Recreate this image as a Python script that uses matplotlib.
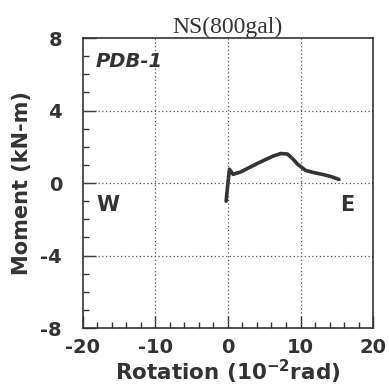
import matplotlib
matplotlib.use('Agg')
import matplotlib.pyplot as plt
from matplotlib.ticker import MultipleLocator

# moment-rotation path
rotation = [-0.25, 0.0, 0.2, 0.7, 1.8, 2.9, 4.0, 5.2, 6.3, 7.3, 8.2, 8.9, 9.6, 10.7, 11.8, 13.0, 14.2, 15.3]
moment = [-1.0, 0.0, 0.76, 0.48, 0.62, 0.85, 1.07, 1.3, 1.5, 1.63, 1.6, 1.35, 1.04, 0.7, 0.58, 0.48, 0.36, 0.2]

x_ticks = [-20, -10, 0, 10, 20]
y_ticks = [-8, -4, 0, 4, 8]

fig = plt.figure(figsize=(3.89, 3.92), dpi=100)
ax = fig.add_axes([0.213, 0.163, 0.746, 0.740])

ax.plot(rotation, moment, color='#333333', linewidth=2.6, solid_capstyle='round',
        solid_joinstyle='round')

ax.set_xlim(-20, 20)
ax.set_ylim(-8, 8)
ax.set_xticks(x_ticks)
ax.set_yticks(y_ticks)
ax.xaxis.set_minor_locator(MultipleLocator(2))
ax.yaxis.set_minor_locator(MultipleLocator(1))
ax.tick_params(which='both', direction='in', top=False, right=False, colors='#333333')
ax.tick_params(which='major', length=9, width=1)
ax.tick_params(which='minor', length=4, width=1)
ax.set_xticklabels([str(v) for v in x_ticks], fontsize=14, fontweight='bold', color='#333333')
ax.set_yticklabels([str(v) for v in y_ticks], fontsize=14, fontweight='bold', color='#333333')
ax.tick_params(axis='x', pad=7)
ax.tick_params(axis='y', pad=15)

for v in [-10, 0, 10]:
    ax.axvline(v, color='#555555', linestyle=(0, (1, 2)), linewidth=0.9)
for v in [-4, 0, 4]:
    ax.axhline(v, color='#555555', linestyle=(0, (1, 2)), linewidth=0.9)

for s in ax.spines.values():
    s.set_color('#333333')
    s.set_linewidth(1.2)

ax.text(-18.2, 6.7, 'PDB-1', fontsize=14, fontweight='bold', style='italic',
        color='#333333', va='center')
ax.text(-18.2, -1.2, 'W', fontsize=15, fontweight='bold', color='#333333', va='center')
ax.text(15.4, -1.2, 'E', fontsize=15, fontweight='bold', color='#333333', va='center')

ax.set_title('NS(800gal)', fontsize=17, family='Liberation Serif', color='#333333', pad=3)
ax.set_ylabel('Moment (kN-m)', fontsize=15, fontweight='bold', color='#333333', labelpad=6)
ax.set_xlabel('Rotation (10$^{\\mathbf{-2}}$rad)', fontsize=15.5, fontweight='bold',
              color='#333333', labelpad=1)

fig.savefig('out.png', dpi=100)
